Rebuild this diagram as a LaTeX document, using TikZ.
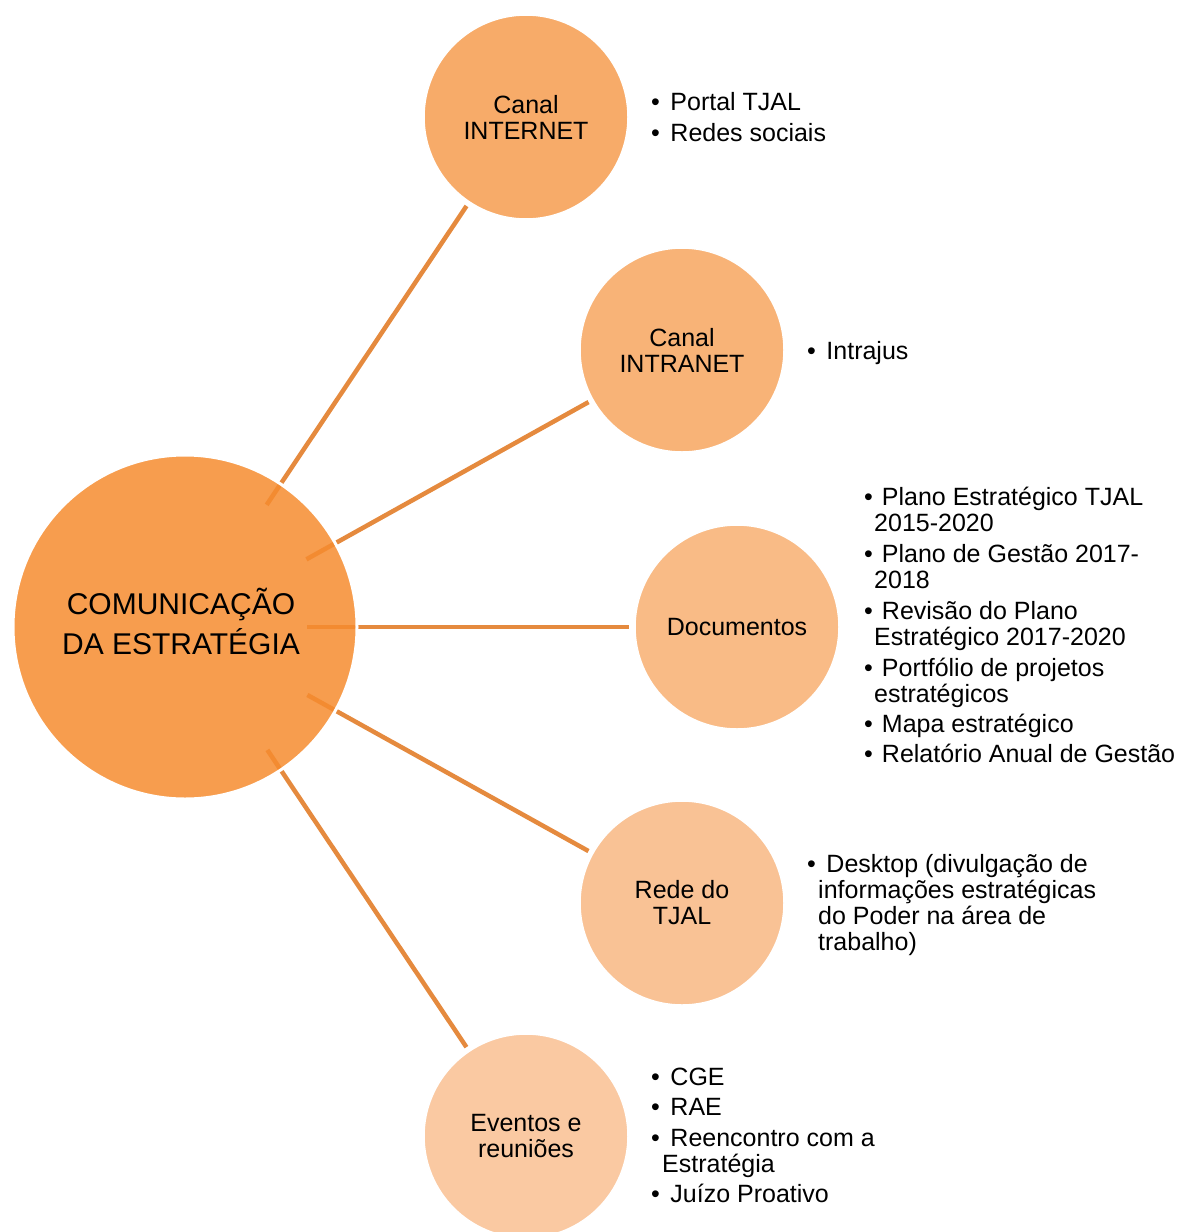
\documentclass[tikz,border=0pt]{standalone}
\usepackage{fontspec}
\setmainfont{Liberation Sans}
\usetikzlibrary{calc,backgrounds}
\definecolor{chub}{HTML}{F68C2F}
\definecolor{cs1}{HTML}{F7AB69}
\definecolor{cs2}{HTML}{F8B377}
\definecolor{cs3}{HTML}{F9BB86}
\definecolor{cs4}{HTML}{F9C295}
\definecolor{cs5}{HTML}{FAC9A2}
\definecolor{clink}{HTML}{E58A3E}
\newcommand{\bitem}{•\hspace{10.5pt}}
\newcommand{\bitemd}{•\hspace{9pt}}
\begin{document}
\begin{tikzpicture}[x=1pt,y=-1pt,
  hub/.style={circle, minimum size=344pt, inner sep=0pt, fill=chub, fill opacity=0.85, draw=white, line width=3pt},
  hubtext/.style={align=center, inner sep=0pt, font=\fontsize{30}{40}\selectfont},
  sat/.style={circle, minimum size=204pt, inner sep=0pt, draw=white, line width=1.5pt, align=center, font=\fontsize{25}{26}\selectfont},
  link/.style={draw=clink, line width=4.5pt},
  blist/.style={anchor=base west, inner sep=0pt, align=left, font=\fontsize{25}{26}\selectfont}]
\useasboundingbox (0,0) rectangle (1178,1232);

\node[hub] (hub) at (185,627) {};
\node[hubtext] (hubt) at (181,621) {COMUNICAÇÃO\\DA ESTRATÉGIA};
\node[sat, fill=cs1] (s1) at (526,117) {Canal\\INTERNET};
\node[sat, fill=cs2] (s2) at (682,350) {Canal\\INTRANET};
\node[sat, fill=cs3] (s3) at (737,627) {Documentos};
\node[sat, fill=cs4] (s4) at (682,903) {Rede do\\TJAL};
\node[sat, fill=cs5] (s5) at (526,1136) {Eventos e\\reuniões};

\begin{pgfonlayer}{background}
\draw[link] ($(hub)!147pt!(s1)$) -- ($(s1)!107pt!(hub)$);
\draw[link] ($(hub)!139pt!(s2)$) -- ($(s2)!107pt!(hub)$);
\draw[link] ($(hub)!122pt!(s3)$) -- ($(s3)!108pt!(hub)$);
\draw[link] ($(hub)!140pt!(s4)$) -- ($(s4)!107pt!(hub)$);
\draw[link] ($(hub)!148pt!(s5)$) -- ($(s5)!107pt!(hub)$);
\end{pgfonlayer}

\node[blist] (l1) at (651,141) {\bitem Portal TJAL\\[5pt]\bitem Redes sociais};
\node[blist] (l2) at (807,359) {\bitem Intrajus};
\node[blist] (l3) at (864,762) {\bitemd Plano Estratégico TJAL\\\hspace*{10pt}2015-2020\\[5pt]\bitemd Plano de Gestão 2017-\\\hspace*{10pt}2018\\[5pt]\bitemd Revisão do Plano\\\hspace*{10pt}Estratégico 2017-2020\\[5pt]\bitemd Portfólio de projetos\\\hspace*{10pt}estratégicos\\[4pt]\bitemd Mapa estratégico\\[4pt]\bitemd Relatório Anual de Gestão};
\node[blist] (l4) at (807,950) {\bitem Desktop (divulgação de\\\hspace*{11pt}informações estratégicas\\\hspace*{11pt}do Poder na área de\\\hspace*{11pt}trabalho)};
\node[blist] (l5) at (651,1202) {\bitem CGE\\[4pt]\bitem RAE\\[5pt]\bitem Reencontro com a\\\hspace*{11pt}Estratégia\\[4pt]\bitem Juízo Proativo};
\end{tikzpicture}
\end{document}
